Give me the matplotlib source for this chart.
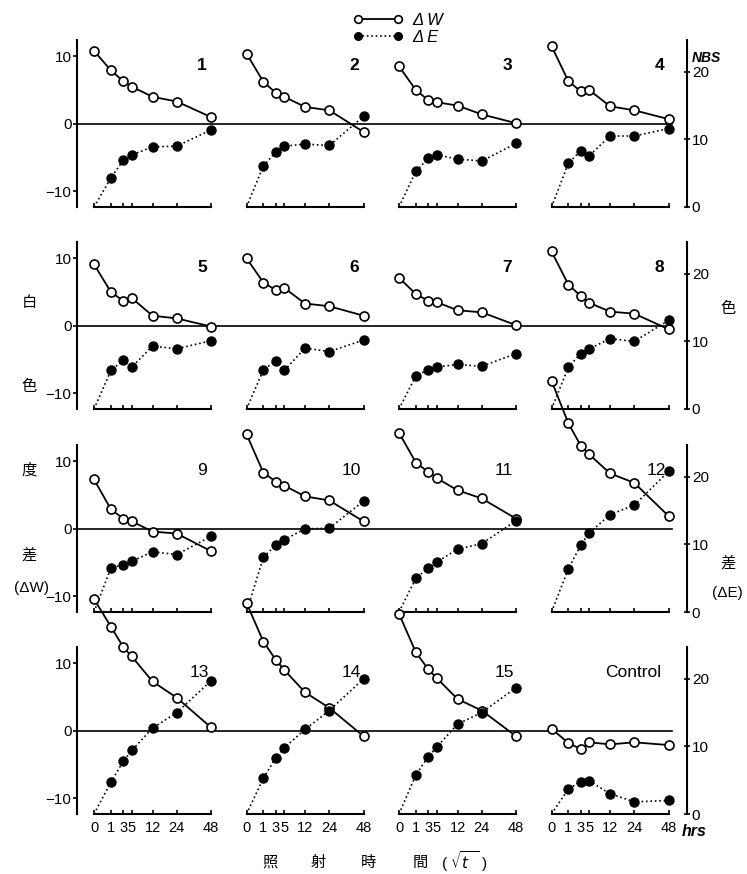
import numpy as np
import matplotlib
matplotlib.use('Agg')
import matplotlib.pyplot as plt
from matplotlib.lines import Line2D

plt.rcParams['font.family'] = ['Liberation Sans', 'Noto Sans CJK JP', 'DejaVu Sans']

# ---------------- data ----------------
HOURS = [0, 1, 3, 5, 12, 24, 48]
HOUR_LABELS = ['0', '1', '3', '5', '12', '24', '48']
PANEL_LABELS = ['1', '2', '3', '4', '5', '6', '7', '8',
                '9', '10', '11', '12', '13', '14', '15', 'Control']

DELTA_W = [
    [10.8, 7.9, 6.3, 5.5, 4.0, 3.3, 1.0],
    [10.4, 6.2, 4.6, 4.0, 2.5, 2.0, -1.2],
    [8.5, 5.0, 3.5, 3.2, 2.7, 1.4, 0.1],
    [11.5, 6.3, 4.8, 5.0, 2.6, 2.0, 0.7],
    [9.1, 5.0, 3.7, 4.1, 1.5, 1.1, -0.1],
    [10.0, 6.4, 5.3, 5.6, 3.3, 2.9, 1.5],
    [7.1, 4.7, 3.7, 3.5, 2.3, 2.0, 0.1],
    [11.0, 6.1, 4.4, 3.4, 2.1, 1.8, -0.5],
    [7.3, 2.9, 1.5, 1.1, -0.4, -0.7, -3.3],
    [14.0, 8.3, 7.0, 6.4, 4.8, 4.2, 1.1],
    [14.2, 9.8, 8.4, 7.5, 5.7, 4.5, 1.5],
    [21.9, 15.6, 12.3, 11.0, 8.2, 6.8, 1.9],
    [19.5, 15.4, 12.4, 11.0, 7.3, 4.9, 0.5],
    [18.9, 13.2, 10.5, 9.0, 5.7, 3.4, -0.8],
    [17.3, 11.6, 9.1, 7.8, 4.7, 3.0, -0.8],
    [0.3, -1.8, -2.7, -1.7, -2.0, -1.7, -2.1],
]

DELTA_E = [
    [0, 4.3, 6.9, 7.7, 8.9, 9.0, 11.4],
    [0, 6.1, 8.1, 9.0, 9.3, 9.1, 13.4],
    [0, 5.3, 7.2, 7.7, 7.1, 6.8, 9.4],
    [0, 6.5, 8.3, 7.6, 10.5, 10.5, 11.6],
    [0, 5.7, 7.2, 6.2, 9.3, 8.9, 10.1],
    [0, 5.8, 7.1, 5.7, 9.0, 8.5, 10.2],
    [0, 4.9, 5.8, 6.2, 6.6, 6.3, 8.2],
    [0, 6.2, 8.2, 8.9, 10.4, 10.0, 13.1],
    [0, 6.5, 7.0, 7.5, 8.9, 8.5, 11.2],
    [0, 8.1, 9.9, 10.7, 12.3, 12.4, 16.4],
    [0, 5.0, 6.5, 7.4, 9.3, 10.1, 13.5],
    [0, 6.4, 9.9, 11.7, 14.4, 15.8, 20.8],
    [0, 4.7, 7.8, 9.4, 12.7, 15.0, 19.7],
    [0, 5.3, 8.3, 9.8, 12.5, 15.3, 20.0],
    [0, 5.8, 8.5, 9.9, 13.3, 15.0, 18.7],
    [0, 3.7, 4.8, 4.9, 3.0, 1.8, 2.0],
]

W_TICKS = [-10, 0, 10]
E_TICKS = [0, 10, 20]

# ---------------- layout ----------------
W, H = 747, 874
fig = plt.figure(figsize=(W / 100, H / 100), dpi=100)


def fwd(x):
    x = np.asarray(x, dtype=float)
    return np.sign(x) * np.sqrt(np.abs(x))


def inv(y):
    y = np.asarray(y, dtype=float)
    return np.sign(y) * y ** 2


XLIM = (float(inv(-1.007)), float(inv(8.02)))
W_LIM = (-12.3, 12.4)
E_LIM = (W_LIM[0] + 12.3, W_LIM[1] + 12.3)
ROW_BOTTOMS = [207, 409, 612, 814]
COL_LEFT0, COL_W, AX_H = 77, 152.5, 167

for i in range(16):
    r, c = divmod(i, 4)
    left = COL_LEFT0 + COL_W * c
    rect = [left / W, 1 - ROW_BOTTOMS[r] / H, COL_W / W, AX_H / H]
    ax = fig.add_axes(rect)
    ax.set_xscale('function', functions=(fwd, inv))
    ax.set_xlim(XLIM)
    ax.set_ylim(W_LIM)
    ax.patch.set_visible(False)

    ax2 = ax.twinx()
    ax2.set_ylim(E_LIM)
    ax2.patch.set_visible(False)

    # spines
    for s in ['top', 'right']:
        ax.spines[s].set_visible(False)
    ax.spines['left'].set_visible(c == 0)
    ax.spines['left'].set_linewidth(1.5)
    ax.spines['bottom'].set_bounds(0, 48)
    ax.spines['bottom'].set_linewidth(1.5)
    for s in ['top', 'bottom', 'left']:
        ax2.spines[s].set_visible(False)
    ax2.spines['right'].set_visible(c == 3)
    ax2.spines['right'].set_linewidth(1.5)

    # x ticks
    ax.set_xticks(HOURS)
    ax.set_xticks([], minor=True)
    ax.tick_params(axis='x', direction='in', length=3, width=1.2,
                   labelsize=10.5, pad=5, labelbottom=(r == 3))
    if r == 3:
        ax.set_xticklabels(HOUR_LABELS)

    # y ticks
    if c == 0:
        ax.set_yticks(W_TICKS)
        ax.tick_params(axis='y', direction='out', length=3, width=1.2,
                       labelsize=11, pad=1)
    else:
        ax.set_yticks([])
    if c == 3:
        ax2.set_yticks(E_TICKS)
        ax2.tick_params(axis='y', direction='inout', length=5, width=1.2,
                        labelsize=11, pad=1)
    else:
        ax2.set_yticks([])

    # zero line
    ax.axhline(0, xmin=0, xmax=(1 if c < 3 else 0.9), color='k', lw=1.2, zorder=1)

    # data
    ax.plot(HOURS, DELTA_W[i], '-o', color='k', lw=1.3, ms=6.5, mew=1.2,
            mfc='white', mec='k', clip_on=False, zorder=3)
    ax2.plot(HOURS, DELTA_E[i], ':o', color='k', lw=1.2, ms=6.5, mew=1.0,
             mfc='k', mec='k', clip_on=False, zorder=3, markevery=slice(1, None))

    lab = PANEL_LABELS[i]
    if lab == 'Control':
        xf = 0.65
    elif len(lab) == 2:
        xf = 0.80
    else:
        xf = 0.82
    ax.text(xf, 0.85, lab, transform=ax.transAxes, ha='center', va='center',
            fontsize=12.5, fontweight=('bold' if i < 8 else 'normal'))

# ---------------- texts ----------------
cjk = ['Noto Sans CJK JP', 'DejaVu Sans']
for ch, x, y in [('白', 29, 302), ('色', 29, 386), ('度', 29, 470), ('差', 29, 555),
                 ('色', 728, 309), ('差', 728, 563),
                 ('照', 270, 862), ('射', 318, 862), ('時', 368, 862), ('間', 420, 862)]:
    fig.text(x / W, 1 - y / H, ch, ha='center', va='center', fontsize=11, family=cjk)

fig.text(31 / W, 1 - 588 / H, '(ΔW)', ha='center', va='center', fontsize=11)
fig.text(727 / W, 1 - 593 / H, '(ΔE)', ha='center', va='center', fontsize=11)
fig.text(465 / W, 1 - 862 / H, r'( $\sqrt{t\;\;}$ )', ha='center', va='center', fontsize=11)
fig.text(706 / W, 1 - 58 / H, 'NBS', ha='center', va='center', fontsize=10,
         style='italic', fontweight='bold')
fig.text(682 / W, 1 - 831 / H, 'hrs', ha='left', va='center', fontsize=11.5,
         style='italic', fontweight='bold')

handles = [
    Line2D([], [], color='k', lw=1.3, ls='-', marker='o', ms=5.5, mfc='white', mec='k', mew=1.2),
    Line2D([], [], color='k', lw=1.2, ls=':', marker='o', ms=5.5, mfc='k', mec='k'),
]
fig.legend(handles, ['Δ W', 'Δ E'], loc='center', bbox_to_anchor=(398 / W, 1 - 29 / H),
           numpoints=2, handlelength=3.0, frameon=False, labelspacing=0.1,
           handletextpad=0.6, prop={'style': 'italic', 'size': 12})

fig.savefig('out.png', dpi=100)
